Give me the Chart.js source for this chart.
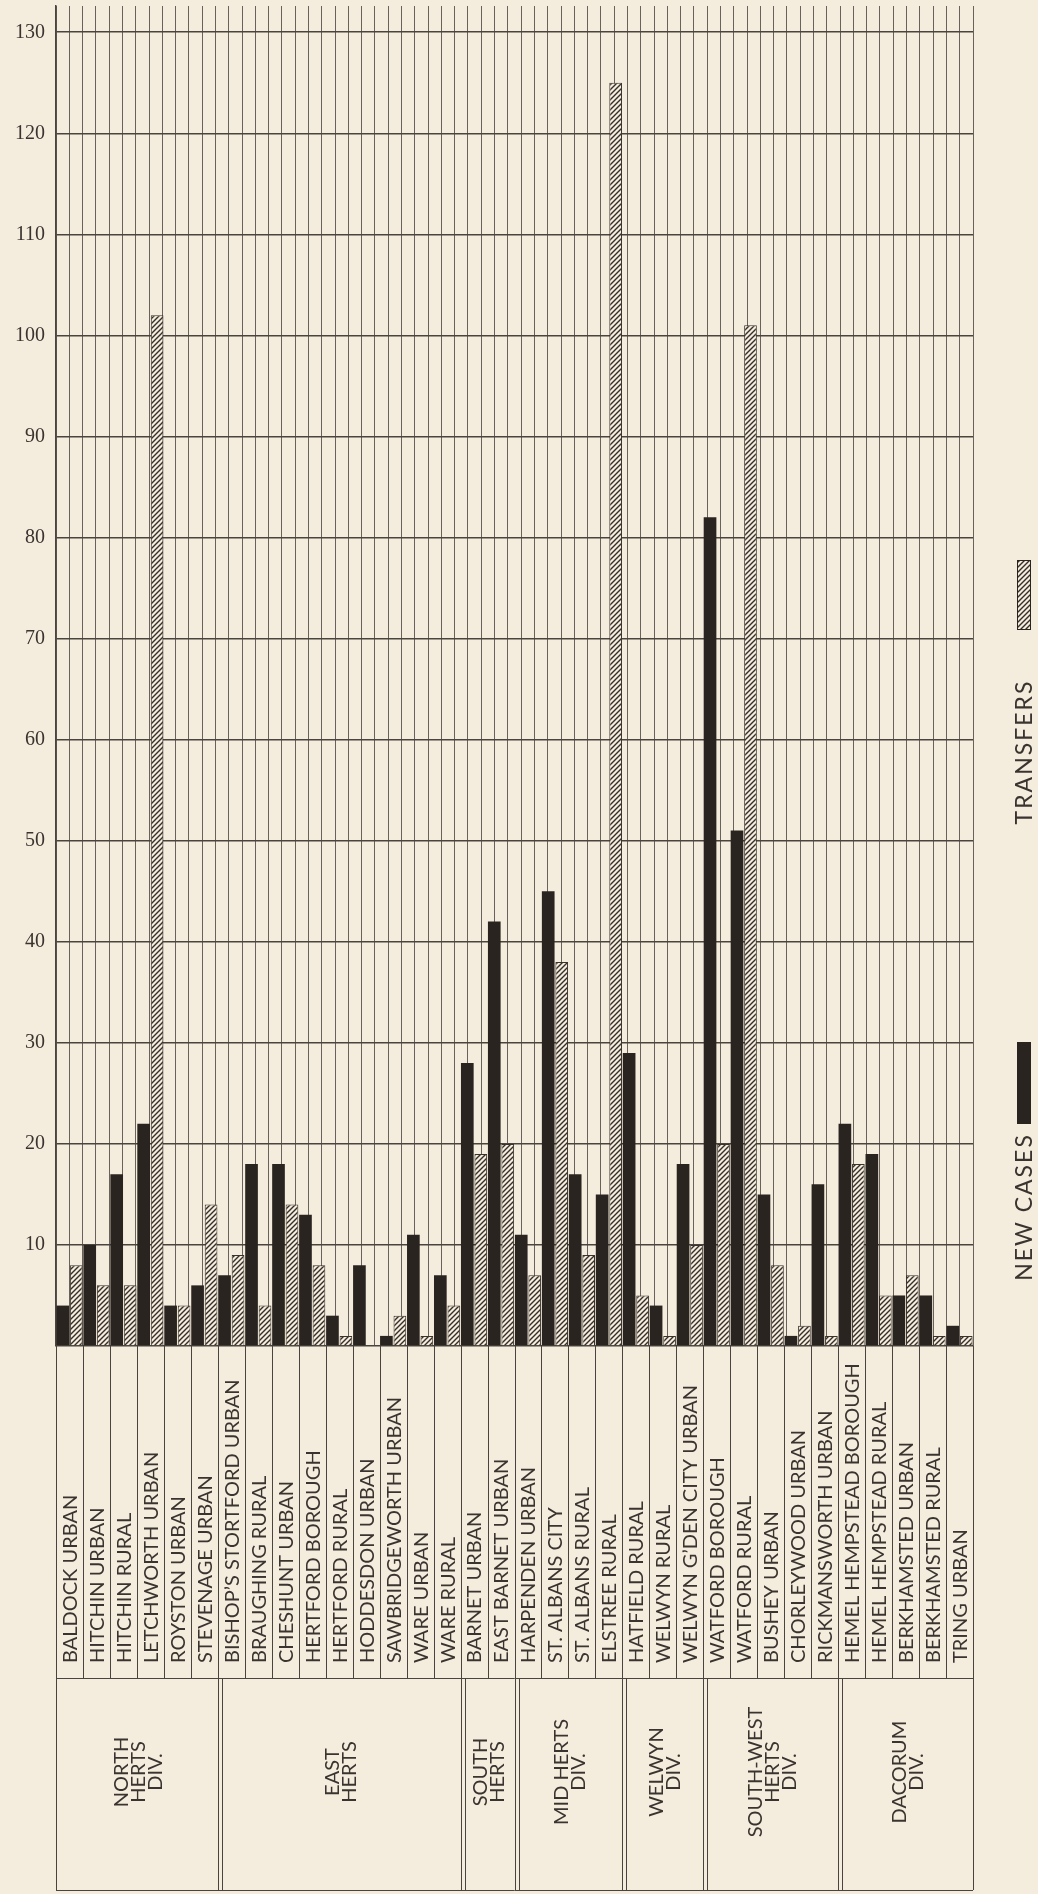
<!DOCTYPE html>
<html>
<head>
<meta charset="utf-8">
<script src="https://cdn.jsdelivr.net/npm/chart.js@4.4.0/dist/chart.umd.min.js"></script>
<style>
  html, body { margin: 0; padding: 0; background: #f4ecdc; }
  #wrap { position: relative; width: 1038px; height: 1894px; }
</style>
</head>
<body>
<div id="wrap"><canvas id="chart"></canvas></div>
<script>
const districts = [
    'BALDOCK URBAN', 'HITCHIN URBAN', 'HITCHIN RURAL', 'LETCHWORTH URBAN', 'ROYSTON URBAN',
    'STEVENAGE URBAN', 'BISHOP’S STORTFORD URBAN', 'BRAUGHING RURAL', 'CHESHUNT URBAN',
    'HERTFORD BOROUGH', 'HERTFORD RURAL', 'HODDESDON URBAN', 'SAWBRIDGEWORTH URBAN',
    'WARE URBAN', 'WARE RURAL', 'BARNET URBAN', 'EAST BARNET URBAN', 'HARPENDEN URBAN',
    'ST. ALBANS CITY', 'ST. ALBANS RURAL', 'ELSTREE RURAL', 'HATFIELD RURAL', 'WELWYN RURAL',
    'WELWYN G’DEN CITY URBAN', 'WATFORD BOROUGH', 'WATFORD RURAL', 'BUSHEY URBAN',
    'CHORLEYWOOD URBAN', 'RICKMANSWORTH URBAN', 'HEMEL HEMPSTEAD BOROUGH',
    'HEMEL HEMPSTEAD RURAL', 'BERKHAMSTED URBAN', 'BERKHAMSTED RURAL', 'TRING URBAN'];

const newCases = [4, 10, 17, 22, 4, 6, 7, 18, 18, 13, 3, 8, 1, 11, 7, 28, 42, 11, 45, 17,
    15, 29, 4, 18, 82, 51, 15, 1, 16, 22, 19, 5, 5, 2];
const transfers = [8, 6, 6, 102, 4, 14, 9, 4, 14, 8, 1, 0, 3, 1, 4, 19, 20, 7, 38, 9,
    125, 5, 1, 10, 20, 101, 8, 2, 1, 18, 5, 7, 1, 1];

const divisions = [['NORTH', 'HERTS', 'DIV.'], ['EAST', 'HERTS'], ['SOUTH', 'HERTS'],
    ['MID HERTS', 'DIV.'], ['WELWYN', 'DIV.'], ['SOUTH-WEST', 'HERTS', 'DIV.'], ['DACORUM', 'DIV.']];
const divisionSizes = [6, 9, 2, 4, 3, 5, 5];

const yTicks = [10, 20, 30, 40, 50, 60, 70, 80, 90, 100, 110, 120, 130];

const PAPER = '#f4ecdc';
const INK = '#2a2420';
const TEXT = '#3a3430';

function makeHatch() {
    const c = document.createElement('canvas');
    c.width = 5; c.height = 5;
    const g = c.getContext('2d');
    g.fillStyle = PAPER;
    g.fillRect(0, 0, 5, 5);
    g.strokeStyle = '#352e29';
    g.lineWidth = 1.4;
    g.beginPath();
    g.moveTo(-1, 6); g.lineTo(6, -1);
    g.moveTo(-1, 1); g.lineTo(1, -1);
    g.moveTo(4, 6); g.lineTo(6, 4);
    g.stroke();
    return g.createPattern(c, 'repeat');
}

const hatch = makeHatch();

// table of district / division names under the plot, plus the side legend
const tablePlugin = {
    id: 'hertsTable',
    afterDraw(chart) {
        const ctx = chart.ctx;
        const xs = chart.scales.x;
        const area = chart.chartArea;
        const n = districts.length;
        const w = (xs.right - xs.left) / n;
        const top = area.bottom, mid = 1678, bottom = 1890;

        ctx.save();
        ctx.strokeStyle = '#4a443e';
        ctx.lineWidth = 1;
        // district columns
        for (let i = 0; i <= n; i++) {
            const x = Math.round(xs.left + i * w) + 0.5;
            ctx.beginPath(); ctx.moveTo(x, top); ctx.lineTo(x, mid); ctx.stroke();
        }
        ctx.beginPath(); ctx.moveTo(area.left, mid + 0.5); ctx.lineTo(area.right, mid + 0.5); ctx.stroke();
        ctx.beginPath(); ctx.moveTo(area.left, bottom + 0.5); ctx.lineTo(area.right, bottom + 0.5); ctx.stroke();
        // division columns (double rules)
        let k = 0;
        const bounds = [0];
        divisionSizes.forEach(s => { k += s; bounds.push(k); });
        bounds.forEach((b, j) => {
            const x = Math.round(xs.left + b * w) + 0.5;
            ctx.beginPath(); ctx.moveTo(x, mid); ctx.lineTo(x, bottom); ctx.stroke();
            if (j > 0 && j < bounds.length - 1) {
                ctx.beginPath(); ctx.moveTo(x + 4, mid); ctx.lineTo(x + 4, bottom); ctx.stroke();
            }
        });

        ctx.fillStyle = TEXT;
        ctx.font = '20px Lato';
        ctx.textBaseline = 'middle';
        ctx.textAlign = 'left';
        districts.forEach((name, i) => {
            ctx.save();
            ctx.translate(xs.getPixelForValue(i), 1663);
            ctx.rotate(-Math.PI / 2);
            ctx.fillText(name, 0, 1);
            ctx.restore();
        });

        ctx.textAlign = 'center';
        divisions.forEach((lines, j) => {
            const cx = xs.left + (bounds[j] + bounds[j + 1]) / 2 * w + 2;
            ctx.save();
            ctx.translate(cx, 1772);
            ctx.rotate(-Math.PI / 2);
            lines.forEach((t, li) => {
                ctx.fillText(t, 0, (li - (lines.length - 1) / 2) * 17);
            });
            ctx.restore();
        });

        // legend on the right
        const lx = 1024;
        ctx.fillStyle = hatch;
        ctx.fillRect(lx - 7, 560, 14, 70);
        ctx.strokeStyle = INK;
        ctx.strokeRect(lx - 7 + 0.5, 560.5, 13, 69);
        ctx.fillStyle = INK;
        ctx.fillRect(lx - 7, 1042, 14, 82);
        ctx.fillStyle = TEXT;
        ctx.font = '23px Lato';
        ctx.letterSpacing = '2px';
        ctx.textAlign = 'center';
        [['TRANSFERS', 752], ['NEW CASES', 1207]].forEach(([t, y]) => {
            ctx.save();
            ctx.translate(lx, y);
            ctx.rotate(-Math.PI / 2);
            ctx.fillText(t, 0, 1);
            ctx.restore();
        });
        ctx.restore();
    }
};

new Chart(document.getElementById('chart'), {
    type: 'bar',
    data: {
        labels: districts,
        datasets: [{
            label: 'NEW CASES',
            data: newCases,
            backgroundColor: INK,
            borderWidth: 0,
            categoryPercentage: 1,
            barPercentage: 0.94
        }, {
            label: 'TRANSFERS',
            data: transfers,
            backgroundColor: hatch,
            borderColor: '#3a332d',
            borderWidth: 1,
            categoryPercentage: 1,
            barPercentage: 0.94
        }]
    },
    options: {
        responsive: true,
        maintainAspectRatio: false,
        animation: false,
        layout: {padding: {top: 6, right: 65, bottom: 548, left: 0}},
        plugins: {legend: {display: false}, tooltip: {enabled: false}},
        scales: {
            x: {
                display: false
            },
            xg: {
                type: 'linear',
                position: 'bottom',
                min: 0,
                max: districts.length * 2,
                afterFit: s => { s.height = 0; },
                ticks: {display: false, stepSize: 1, maxTicksLimit: 200},
                grid: {color: 'rgba(70,64,58,0.8)', lineWidth: 1, drawTicks: false},
                border: {display: false}
            },
            y: {
                min: 0,
                max: 132.6,
                afterFit: s => { s.width = 56; s.paddingTop = 0; s.paddingBottom = 0; },
                afterBuildTicks: s => { s.ticks = s.ticks.filter(t => t.value === 0 || yTicks.includes(t.value)); },
                ticks: {
                    stepSize: 10,
                    padding: 11,
                    color: TEXT,
                    font: {family: 'Liberation Serif', size: 20},
                    callback: v => yTicks.includes(v) ? String(v) : ''
                },
                grid: {color: '#4a443e', lineWidth: 1.6, drawTicks: false},
                border: {display: true, color: '#4a443e', width: 1.5}
            }
        }
    },
    plugins: [tablePlugin]
});
</script>
</body>
</html>
